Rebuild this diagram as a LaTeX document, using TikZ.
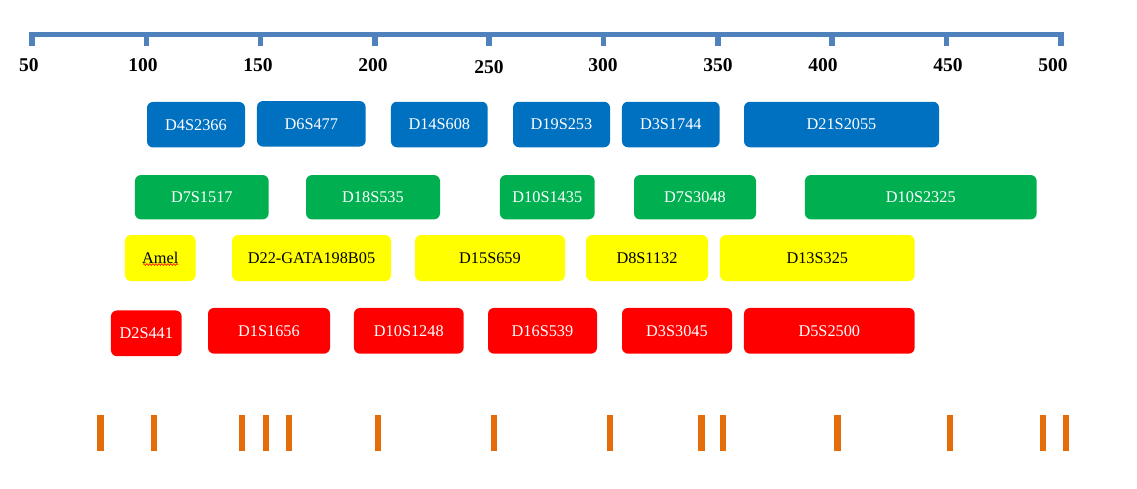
\documentclass[tikz,border=0pt]{standalone}
\usepackage{fontspec}
\setmainfont{Liberation Serif}
\usepackage{tikz}
\usetikzlibrary{positioning}
\usetikzlibrary{decorations.pathmorphing}
\definecolor{axisblue}{HTML}{4F81BD}
\definecolor{locusblue}{HTML}{0070C0}
\definecolor{locusgreen}{HTML}{00B050}
\definecolor{locusyellow}{HTML}{FFFF00}
\definecolor{locusred}{HTML}{FF0000}
\definecolor{siteorange}{HTML}{E46C0A}

\begin{document}
\begin{tikzpicture}[x=1pt,y=-1pt,
  locus/.style={rounded corners=6pt,inner sep=0pt,text=white,
    font=\fontsize{16.3}{18}\selectfont},
  bluelocus/.style={locus,fill=locusblue,minimum height=45.5pt},
  greenlocus/.style={locus,fill=locusgreen,minimum height=44.3pt},
  yellowlocus/.style={locus,fill=locusyellow,text=black,minimum height=46pt},
  redlocus/.style={locus,fill=locusred,minimum height=45.7pt},
  axisline/.style={axisblue,line width=5.5pt},
  scalelabel/.style={inner sep=0pt,font=\fontsize{19.5}{20}\selectfont\bfseries},
  sitemark/.style={siteorange,line width=6.5pt}]
  \useasboundingbox (0,0) rectangle (1137,488);
  % scale
  \draw[axisline] (32,46) -- (32,34.5) -- (1061,34.5) -- (1061,46);
  \foreach \x in {146.3,260.6,374.9,489.2,603.5,717.8,832,946.4}
    \draw[axisline] (\x,34.5) -- (\x,46);
  \foreach \v/\lx/\ly in {50/29/65.5,100/143/65.5,150/258/65.5,200/373/65.5,250/489/66.7,
      300/603/65.5,350/718/65.5,400/823/65.5,450/948/65.5,500/1053/65.5}
    \node[scalelabel] (s\v) at (\lx,\ly) {\v};
  % first row
  \node[bluelocus,minimum width=98pt] (d4s2366) at (196,124.7) {D4S2366};
  \node[bluelocus,minimum width=108.7pt] (d6s477) at (311.3,123.8) {D6S477};
  \node[bluelocus,minimum width=96.7pt] (d14s608) at (439.3,124.5) {D14S608};
  \node[bluelocus,minimum width=97pt] (d19s253) at (561.5,124.5) {D19S253};
  \node[bluelocus,minimum width=97.7pt] (d3s1744) at (670.8,124.5) {D3S1744};
  \node[bluelocus,minimum width=195pt] (d21s2055) at (841.5,124.5) {D21S2055};
  % second row
  \node[greenlocus,minimum width=133.7pt] (d7s1517) at (201.8,197.2) {D7S1517};
  \node[greenlocus,minimum width=134pt] (d18s535) at (373,197.2) {D18S535};
  \node[greenlocus,minimum width=94.7pt] (d10s1435) at (547.3,197.2) {D10S1435};
  \node[greenlocus,minimum width=122pt] (d7s3048) at (695,197.2) {D7S3048};
  \node[greenlocus,minimum width=231.7pt] (d10s2325) at (920.8,197.2) {D10S2325};
  % third row
  \node[yellowlocus,minimum width=70.7pt] (amel) at (160.3,258) {Amel};
  \node[yellowlocus,minimum width=159pt] (d22gata) at (311.5,258) {D22-GATA198B05};
  \node[yellowlocus,minimum width=150pt] (d15s659) at (490,258) {D15S659};
  \node[yellowlocus,minimum width=122pt] (d8s1132) at (647,258) {D8S1132};
  \node[yellowlocus,minimum width=194.7pt] (d13s325) at (817.3,258) {D13S325};
  \draw[red,line width=0.6pt,decorate,decoration={snake,amplitude=0.9pt,segment length=3pt}]
    (143,264.5) -- (178,264.5);
  % fourth row
  \node[redlocus,minimum width=70.7pt] (d2s441) at (146.3,333.3) {D2S441};
  \node[redlocus,minimum width=122pt] (d1s1656) at (269,330.8) {D1S1656};
  \node[redlocus,minimum width=109.7pt] (d10s1248) at (408.8,330.8) {D10S1248};
  \node[redlocus,minimum width=109pt] (d16s539) at (542.5,330.8) {D16S539};
  \node[redlocus,minimum width=110pt] (d3s3045) at (677,330.8) {D3S3045};
  \node[redlocus,minimum width=170.7pt] (d5s2500) at (829.3,330.8) {D5S2500};
  % sites
  \foreach \x in {100.5,154,242,266,289,378,494,610,701.5,723,837.5,950,1043,1066}
    \draw[sitemark] (\x,415) -- (\x,451);
\end{tikzpicture}
\end{document}
